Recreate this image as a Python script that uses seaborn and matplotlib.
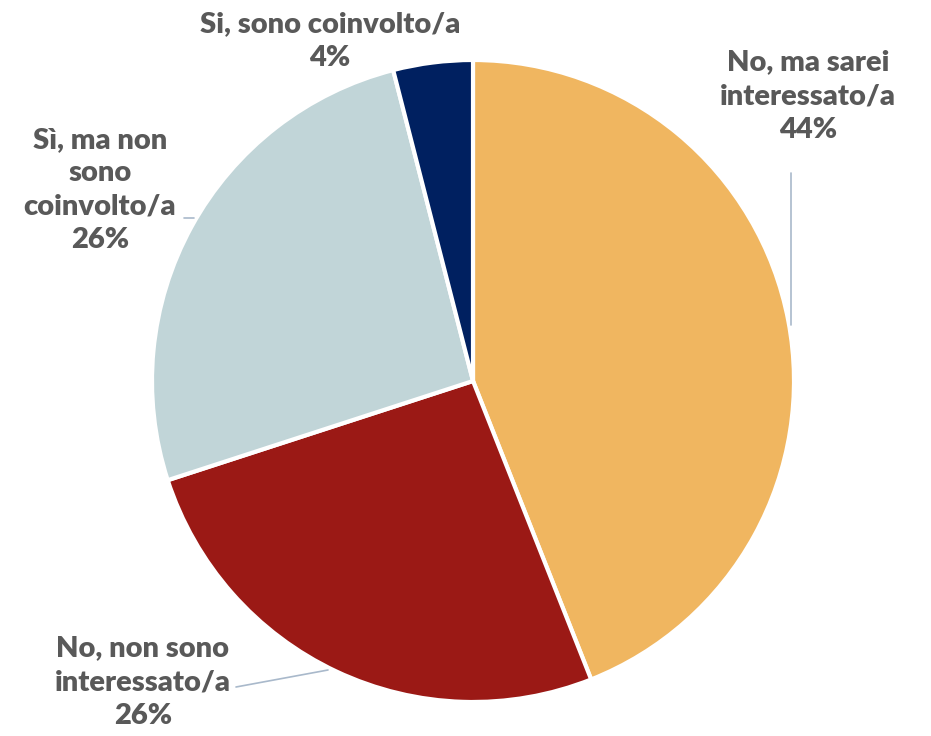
import matplotlib.pyplot as plt
import seaborn as sns

labels = ["No, ma sarei\ninteressato/a", "No, non sono\ninteressato/a",
          "Sì, ma non\nsono\ncoinvolto/a", "Si, sono coinvolto/a"]
shares = [44, 26, 26, 4]
colors = ["#F0B660", "#9B1915", "#C1D5D8", "#002060"]

# label anchor points (pixel coords, y from top)
label_pos = [(808, 96), (143, 682), (100, 190), (330, 41)]
leaders = [[(791, 173), (791, 325)], [(236, 687), (328, 670)],
           [(184, 218), (194, 218)], None]

sns.set_theme(style="white")
plt.rcParams["font.family"] = ["Lato", "DejaVu Sans"]

W, H = 931, 736
fig = plt.figure(figsize=(W / 100, H / 100), dpi=100)
ax = fig.add_axes([0, 0, 1, 1])

ax.pie(shares, colors=colors, startangle=90, counterclock=False,
       center=(473, H - 381), radius=321,
       wedgeprops=dict(edgecolor="white", linewidth=3))

for lab, val, (x, y) in zip(labels, shares, label_pos):
    ax.text(x, H - y, f"{lab}\n{val}%", ha="center", va="center",
            fontsize=21, fontweight="heavy", color="#595959", linespacing=1.36)

for seg in leaders:
    if seg is None:
        continue
    xs = [p[0] for p in seg]
    ys = [H - p[1] for p in seg]
    ax.plot(xs, ys, color="#A9B9CB", linewidth=1.2)

ax.set_xlim(0, W)
ax.set_ylim(0, H)
ax.set_aspect("equal")
ax.axis("off")
fig.savefig("out.png", dpi=100, facecolor="white")
